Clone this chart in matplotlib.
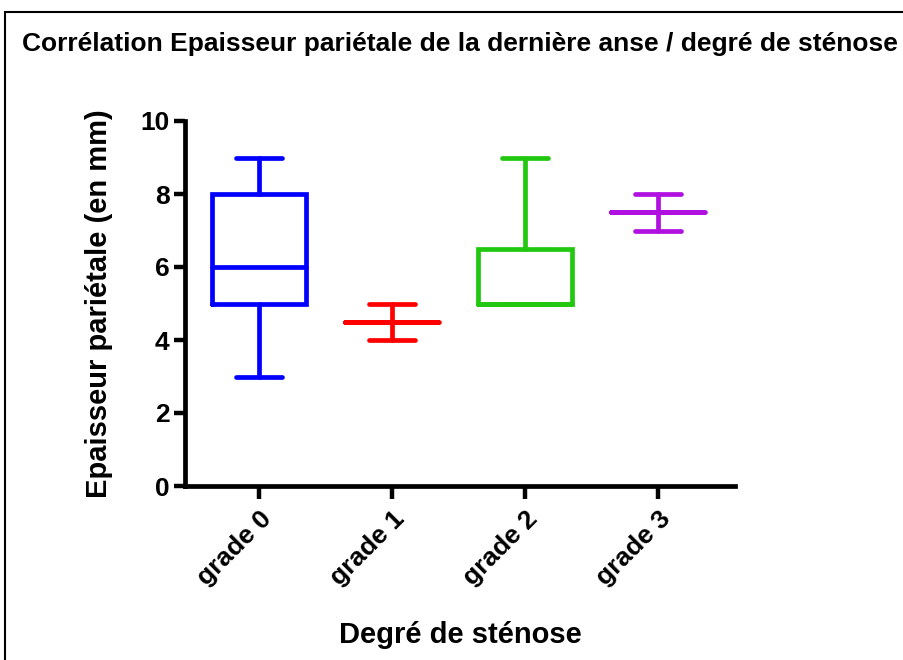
import matplotlib
matplotlib.use("Agg")
import matplotlib.pyplot as plt
from matplotlib.patches import Rectangle

categories = ["grade 0", "grade 1", "grade 2", "grade 3"]
whislo = [3, 4, 5, 7]
q1 = [5, 4.5, 5, 7.5]
med = [6, 4.5, 5, 7.5]
q3 = [8, 4.5, 6.5, 7.5]
whishi = [9, 5, 9, 8]
colors = ["#0000FF", "#FF0000", "#22C810", "#B010E0"]

plt.rcParams['font.family'] = ['Liberation Sans', 'DejaVu Sans']
plt.rcParams['font.weight'] = 'bold'

fig = plt.figure(figsize=(9.04, 6.6), dpi=100)
ax = fig.add_axes([185/904, 1-486/660, (735-185)/904, (486-121)/660])

lw = 3.4
for i, c in enumerate(categories):
    st = dict(whislo=whislo[i], q1=q1[i], med=med[i], q3=q3[i], whishi=whishi[i], label=c, fliers=[])
    props = dict(color=colors[i], linewidth=lw, solid_capstyle='round', solid_joinstyle='miter')
    ax.bxp([st], positions=[i], widths=0.7, showfliers=False, capwidths=0.34,
           boxprops=props, whiskerprops=props, capprops=props,
           medianprops=dict(color=colors[i], linewidth=lw, solid_capstyle='round'),
           manage_ticks=False)

ax.set_xlim(-0.556, 3.579)
ax.set_ylim(0, 10)
ax.set_yticks([0, 2, 4, 6, 8, 10])
ax.set_xticks(range(len(categories)))
ax.set_xticklabels(categories, rotation=45, ha='right', rotation_mode='anchor', fontsize=19, fontweight='bold')
ax.tick_params(axis='y', labelsize=19, width=3.2, length=8, direction='out', pad=3)
ax.tick_params(axis='x', width=3.2, length=9, direction='out', pad=6)
for lab in ax.get_yticklabels():
    lab.set_fontweight('bold')
for s in ['top', 'right']:
    ax.spines[s].set_visible(False)
for s in ['left', 'bottom']:
    ax.spines[s].set_linewidth(3.4)
ax.set_ylabel("Epaisseur pariétale (en mm)", fontsize=21, fontweight='bold', labelpad=20)
ax.set_xlabel("Degré de sténose", fontsize=21, fontweight='bold', labelpad=22)

fig.text(22/904, 1-44/660, "Corrélation Epaisseur pariétale de la dernière anse / degré de sténose",
         fontsize=19, fontweight='bold', va='center', ha='left')

fig.patches.append(Rectangle((5/904, -0.2), 1.5, 1.2 - 12/660, transform=fig.transFigure,
                             fill=False, edgecolor='black', linewidth=1.5))

fig.savefig("out.png", dpi=100)
